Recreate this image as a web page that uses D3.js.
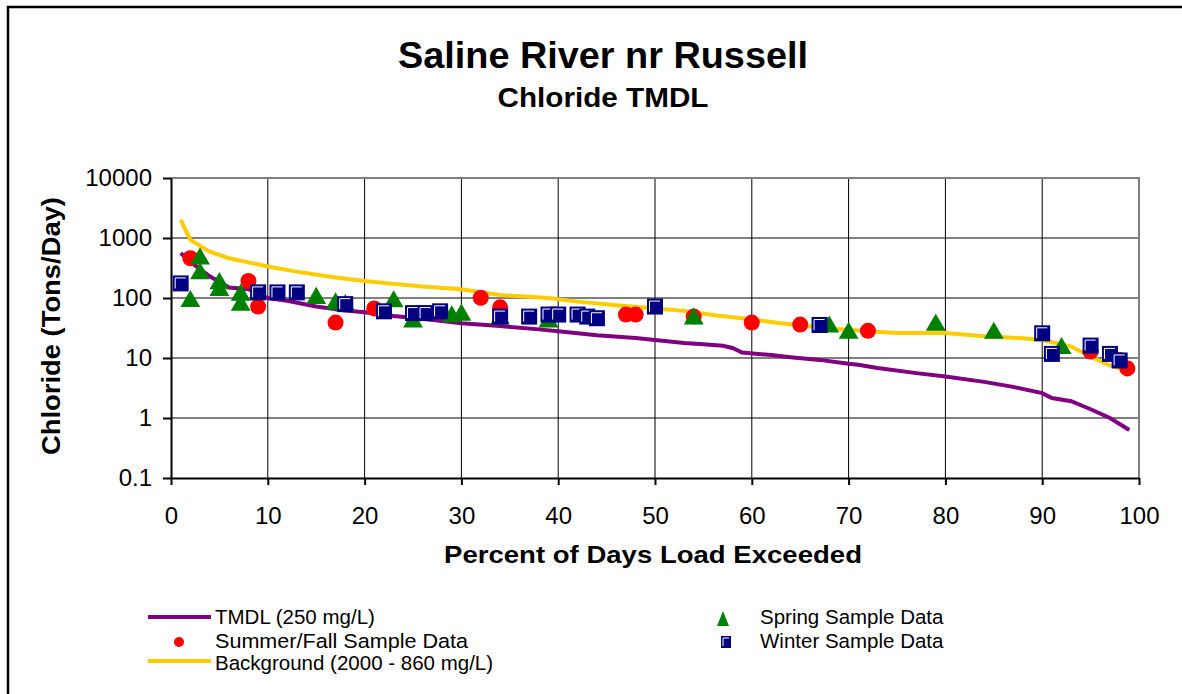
<!DOCTYPE html>
<meta charset="utf-8">
<head>
<style>
body { margin: 0; background: #fff; }
svg { display: block; font-family: Arial, "Liberation Sans", sans-serif; }
.grid line { stroke: #000; stroke-width: 1; }
.axis path, .axis line { stroke: #000; stroke-width: 2; }
.axis text { font-size: 24px; fill: #000; }
.legend text { font-size: 20.5px; fill: #000; }
</style>
</head>
<body>
<svg></svg>
<script src="https://d3js.org/d3.v7.min.js"></script>
<script>
// TMDL line (250 mg/L): percent exceeded vs tons/day
var tmdlPct  = [1, 2, 4, 6, 8, 10, 12, 15, 18, 20, 23, 26, 30, 34, 38, 40, 44, 48, 50, 53, 55, 57, 58, 59, 62, 64, 67, 70, 71, 73, 77, 80, 84, 87, 90, 91, 93, 95, 97, 99];
var tmdlLoad = [560, 400, 230, 150, 140, 100, 90, 72, 62, 58, 50, 45, 38, 34, 30, 28, 24, 21.5, 20, 17.8, 17, 16, 14.7, 12.3, 11.2, 10.3, 9.3, 8, 7.7, 6.8, 5.6, 4.9, 4.0, 3.3, 2.6, 2.15, 1.9, 1.4, 1.0, 0.63];

// Background line (2000 - 860 mg/L)
var bgPct  = [1, 2, 4, 6, 10, 13, 17, 20, 23, 26, 30, 34, 39, 42, 46, 50, 53, 56, 60, 63, 68, 72, 75, 80, 84, 88, 90, 93, 95, 97, 99];
var bgLoad = [2000, 930, 590, 460, 335, 275, 220, 192, 172, 155, 140, 112, 100, 87, 76, 67, 61, 52, 44, 38, 31, 28, 26, 26, 23, 21.3, 20, 15.5, 10.5, 7.5, 6];

// samples
var summerPct  = [2, 8, 9, 17, 21, 32, 34, 47, 48, 54, 60, 65, 72, 95, 98, 98.8];
var summerLoad = [460, 192, 72, 39, 67, 101, 70, 53, 53, 49, 39, 36, 28.4, 12.8, 9.3, 6.7];

var springPct  = [3, 3, 2, 5, 5, 7.2, 7.2, 15, 17, 18, 23, 25, 29, 30, 34, 39, 54, 68, 70, 79, 85, 92];
var springLoad = [450, 255, 88, 175, 135, 112, 76, 99, 80, 75, 87, 40, 49, 52, 45, 40, 45, 33, 26, 35.5, 26, 14.5];

var winterPct  = [1, 9, 11, 13, 18, 22, 25, 26.3, 27.8, 34, 37, 39, 40, 42, 43, 44, 50, 67, 90, 91, 95, 97, 98];
var winterLoad = [175, 124, 124, 124, 79, 60, 56, 56, 60, 49, 49, 53, 53, 53, 49, 46, 72, 35.5, 25.8, 11.7, 16.1, 11.7, 9.1];

var xTicks = [0, 10, 20, 30, 40, 50, 60, 70, 80, 90, 100];
var yTicks = [0.1, 1, 10, 100, 1000, 10000];

var W = 1182, H = 694;
var plot = {left: 171, right: 1139, top: 178, bottom: 478};

var svg = d3.select('svg').attr('width', W).attr('height', H);

var x = d3.scaleLinear().domain([0, 100]).range([plot.left, plot.right]);
var y = d3.scaleLog().domain([0.1, 10000]).range([plot.bottom, plot.top]);

// outer frame (cut off at right and bottom)
svg.append('path')
  .attr('d', 'M8,' + H + 'V7H' + W)
  .attr('fill', 'none').attr('stroke', '#000').attr('stroke-width', 2.5);

// titles
svg.append('text').attr('x', 603).attr('y', 68)
  .attr('text-anchor', 'middle').attr('font-size', 36).attr('font-weight', 'bold')
  .attr('textLength', 410).attr('lengthAdjust', 'spacingAndGlyphs')
  .text('Saline River nr Russell');
svg.append('text').attr('x', 603).attr('y', 107)
  .attr('text-anchor', 'middle').attr('font-size', 27).attr('font-weight', 'bold')
  .attr('textLength', 211).attr('lengthAdjust', 'spacingAndGlyphs')
  .text('Chloride TMDL');

// gridlines
var grid = svg.append('g').attr('class', 'grid');
grid.selectAll('.gx').data(xTicks.slice(1, -1)).enter().append('line')
  .attr('x1', d => x(d)).attr('x2', d => x(d))
  .attr('y1', plot.top).attr('y2', plot.bottom);
grid.selectAll('.gy').data(yTicks.slice(1, -1)).enter().append('line')
  .attr('x1', plot.left).attr('x2', plot.right)
  .attr('y1', d => y(d)).attr('y2', d => y(d));

// grey top/right border
svg.append('path')
  .attr('d', 'M' + plot.left + ',' + plot.top + 'H' + plot.right + 'V' + plot.bottom)
  .attr('fill', 'none').attr('stroke', '#808080').attr('stroke-width', 2);

// axes
var yAxis = d3.axisLeft(y).tickValues(yTicks).tickFormat(d3.format('~g'))
  .tickSize(8).tickSizeOuter(0).tickPadding(11);
svg.append('g').attr('class', 'axis').attr('transform', 'translate(' + plot.left + ',0)').call(yAxis);

var xAxis = d3.axisBottom(x).tickValues(xTicks).tickSize(7).tickSizeOuter(0).tickPadding(22);
svg.append('g').attr('class', 'axis').attr('transform', 'translate(0,' + plot.bottom + ')').call(xAxis);

svg.append('text').attr('x', 653).attr('y', 563)
  .attr('text-anchor', 'middle').attr('font-size', 24).attr('font-weight', 'bold')
  .attr('textLength', 418).attr('lengthAdjust', 'spacingAndGlyphs')
  .text('Percent of Days Load Exceeded');
svg.append('text').attr('transform', 'translate(60,326) rotate(-90)')
  .attr('text-anchor', 'middle').attr('font-size', 25).attr('font-weight', 'bold')
  .attr('textLength', 258).attr('lengthAdjust', 'spacingAndGlyphs')
  .text('Chloride (Tons/Day)');

// lines
var line = d3.line().x(d => x(d[0])).y(d => y(d[1]));
svg.append('path').datum(d3.zip(tmdlPct, tmdlLoad))
  .attr('d', line).attr('fill', 'none').attr('stroke', '#800080').attr('stroke-width', 4);
svg.append('path').datum(d3.zip(bgPct, bgLoad))
  .attr('d', line).attr('fill', 'none').attr('stroke', '#FFCC00').attr('stroke-width', 4);

// markers
function drawCircles(g, pts, r) {
  g.selectAll('circle').data(pts).enter().append('circle')
    .attr('cx', d => x(d[0])).attr('cy', d => y(d[1])).attr('r', r).attr('fill', '#FF0000');
}
function drawTris(g, pts, size) {
  g.selectAll('path').data(pts).enter().append('path')
    .attr('d', d3.symbol().type(d3.symbolTriangle).size(size))
    .attr('transform', d => 'translate(' + x(d[0]) + ',' + y(d[1]) + ')')
    .attr('fill', '#008000');
}
function drawSquares(g, pts, s) {
  var m = g.selectAll('g').data(pts).enter().append('g')
    .attr('transform', d => 'translate(' + x(d[0]) + ',' + y(d[1]) + ')');
  m.append('rect').attr('x', -s / 2).attr('y', -s / 2).attr('width', s).attr('height', s)
    .attr('fill', '#000080');
  m.append('path')
    .attr('d', 'M' + (-s / 2 + 2.5) + ',' + (s / 2 - 3) + 'V' + (-s / 2 + 2.5) + 'H' + (s / 2 - 3))
    .attr('fill', 'none').attr('stroke', '#fff').attr('stroke-width', 1);
}

drawCircles(svg.append('g'), d3.zip(summerPct, summerLoad), 8);
drawTris(svg.append('g'), d3.zip(springPct, springLoad), 170);
drawSquares(svg.append('g'), d3.zip(winterPct, winterLoad), 16);

// legend
var lg = svg.append('g').attr('class', 'legend');
lg.append('line').attr('x1', 148).attr('x2', 211).attr('y1', 617).attr('y2', 617)
  .attr('stroke', '#800080').attr('stroke-width', 4);
lg.append('text').attr('x', 215).attr('y', 624).text('TMDL (250 mg/L)');
lg.append('circle').attr('cx', 179).attr('cy', 642).attr('r', 5).attr('fill', '#FF0000');
lg.append('text').attr('x', 215).attr('y', 648).attr('textLength', 253).attr('lengthAdjust', 'spacingAndGlyphs')
  .text('Summer/Fall Sample Data');
lg.append('line').attr('x1', 148).attr('x2', 211).attr('y1', 661).attr('y2', 661)
  .attr('stroke', '#FFCC00').attr('stroke-width', 4);
lg.append('text').attr('x', 215).attr('y', 670).text('Background (2000 - 860 mg/L)');

lg.append('path').attr('d', 'M723,611L729,626H717Z').attr('fill', '#008000');
lg.append('text').attr('x', 760).attr('y', 624).text('Spring Sample Data');
var sq = lg.append('g').attr('transform', 'translate(726,642)');
sq.append('rect').attr('x', -5).attr('y', -6).attr('width', 10).attr('height', 12).attr('fill', '#000080');
sq.append('path').attr('d', 'M-3,4V-4H3').attr('fill', 'none').attr('stroke', '#fff').attr('stroke-width', 1);
lg.append('text').attr('x', 760).attr('y', 648).text('Winter Sample Data');
</script>
</body>
